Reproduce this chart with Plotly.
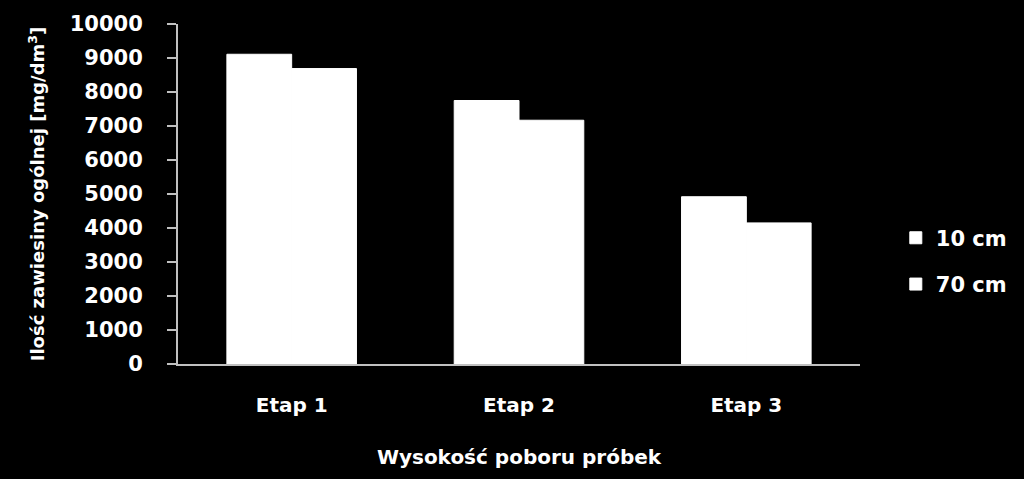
import plotly.graph_objects as go

categories = ["Etap 1", "Etap 2", "Etap 3"]
series_names = ["10 cm", "70 cm"]
values_10cm = [9110, 7750, 4920]
values_70cm = [8690, 7170, 4150]
y_ticks = [0, 1000, 2000, 3000, 4000, 5000, 6000, 7000, 8000, 9000, 10000]

FONT = "DejaVu Sans"
fig = go.Figure()
for name, vals in zip(series_names, [values_10cm, values_70cm]):
    fig.add_trace(go.Bar(
        x=categories, y=vals, name=name, legendgroup=name,
        marker=dict(color="#ffffff", line=dict(width=1, color="#ffffff")),
    ))

fig.update_layout(
    width=1024, height=479,
    paper_bgcolor="#000000", plot_bgcolor="#000000",
    margin=dict(l=178, r=160, t=22, b=115),
    barmode="group", bargap=0.43, bargroupgap=0,
    font=dict(family=FONT, color="#ffffff", size=20),
    showlegend=True,
    legend=dict(
        x=1.0525, xanchor="left", y=0.3026, yanchor="middle",
        font=dict(family=FONT, size=21, color="#ffffff", weight="bold"),
        bgcolor="rgba(0,0,0,0)", traceorder="grouped", tracegroupgap=16,
    ),
    xaxis=dict(
        showline=True, linecolor="#c0c0c0", linewidth=2,
        ticks="", showgrid=False, zeroline=False,
        tickfont=dict(family=FONT, size=20, color="#ffffff", weight="bold"),
        ticklabelstandoff=22,
        title=dict(text="Wysokość poboru próbek", standoff=34,
                   font=dict(family=FONT, size=20, color="#ffffff", weight="bold")),
    ),
    yaxis=dict(
        range=[0, 10000], tickvals=y_ticks, ticktext=[str(v) for v in y_ticks],
        showline=True, linecolor="#c0c0c0", linewidth=2,
        ticks="outside", ticklen=9, tickwidth=2, tickcolor="#c0c0c0",
        showgrid=False, zeroline=False,
        tickfont=dict(family=FONT, size=21, color="#ffffff", weight="bold"),
        ticklabelstandoff=20,
        title=dict(text="Ilość zawiesiny ogólnej [mg/dm<sup>3</sup>]", standoff=20,
                   font=dict(family=FONT, size=18, color="#ffffff", weight="bold")),
    ),
)

fig.write_html(
    "out.html",
    config={"displayModeBar": False},
    post_script="document.body.style.margin='0';document.body.style.background='#000';",
)
